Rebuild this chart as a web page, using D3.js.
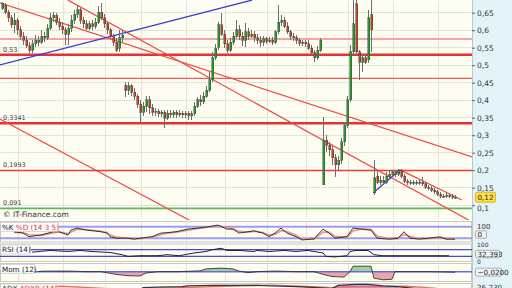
<!DOCTYPE html>
<html>
<head>
<meta charset="utf-8">
<script src="https://cdn.jsdelivr.net/npm/d3@7"></script>
<style>
html, body { margin: 0; padding: 0; background: #fff; }
svg { display: block; font-family: "DejaVu Sans", sans-serif; }
</style>
</head>
<body>
<svg id="chart" width="512" height="288"></svg>
<script>
// daily candles, oldest first
const opens = [.663,.672,.652,.635,.615,.629,.601,.583,.572,.555,.543,.561,.572,.566,.583,.578,.606,.635,.643,.623,.612,.601,.589,.606,.629,.646,.658,.629,.618,.606,.618,.612,.623,.652,.635,.618,.601,.583,.566,.549,.578,
  .443,.429,.441,.423,.412,.389,.366,.383,.401,.378,.366,.369,.361,.366,.349,.363,.358,.366,.358,.363,.358,.363,.355,.361,.383,.401,.395,.412,.429,
  .458,.521,.552,.615,.589,.561,.543,.566,.583,.601,.583,.572,.595,.583,.589,.578,.572,.566,.575,.569,.572,.566,.595,.623,.629,.612,.595,.583,.578,.572,.563,.566,.561,.549,.535,.521,.543,
  .158,.286,.272,.258,.235,.215,.229,.281,.329,.401,.538,.675,.538,.509,.521,.515,.646,
  .135,.183,.166,.172,.166,.183,.189,.195,.189,.198,.183,.169,.166,.163,.166,.163,.166,.161,.152,.149,.143,.138,.132,.126,.126,.129,.126,.123];
const highs = [.681,.678,.658,.643,.649,.635,.612,.595,.583,.566,.572,.586,.583,.601,.595,.618,.649,.652,.649,.635,.623,.609,.618,.643,.658,.669,.663,.638,.629,.626,.629,.635,.669,.678,.646,.623,.606,.589,.578,.601,.601,
  .452,.452,.446,.435,.418,.401,.395,.412,.412,.389,.378,.375,.372,.372,.372,.372,.372,.372,.372,.369,.369,.369,.369,.395,.409,.415,.423,.441,.481,
  .538,.561,.623,.649,.601,.572,.578,.595,.629,.615,.595,.621,.606,.601,.598,.589,.583,.583,.581,.581,.581,.601,.672,.643,.638,.623,.601,.592,.586,.578,.572,.572,.572,.558,.543,.555,.578,
  .352,.301,.281,.269,.246,.241,.292,.338,.412,.558,.686,.686,.543,.529,.529,.658,.686,
  .229,.201,.183,.183,.195,.198,.201,.201,.203,.203,.189,.175,.172,.172,.172,.172,.181,.166,.158,.155,.149,.143,.138,.132,.135,.132,.132,.129];
const lows = [.658,.646,.623,.606,.592,.586,.572,.558,.549,.535,.535,.552,.555,.561,.566,.572,.601,.623,.615,.601,.589,.558,.558,.595,.618,.635,.618,.606,.601,.601,.601,.603,.618,.629,.606,.589,.578,.555,.538,.538,.566,
  .409,.415,.412,.401,.378,.338,.355,.366,.361,.355,.355,.352,.352,.321,.343,.349,.349,.349,.352,.349,.349,.343,.343,.355,.378,.383,.389,.406,.423,
  .452,.515,.543,.583,.549,.535,.538,.558,.578,.572,.555,.552,.572,.578,.566,.561,.552,.555,.561,.563,.558,.561,.589,.612,.606,.589,.572,.569,.561,.555,.555,.552,.543,.526,.509,.515,.538,
  .158,.252,.241,.215,.181,.201,.218,.269,.321,.395,.529,.526,.458,.481,.503,.506,.538,
  .129,.161,.158,.158,.161,.178,.183,.181,.183,.178,.163,.158,.158,.158,.158,.158,.155,.146,.143,.138,.132,.126,.121,.121,.121,.121,.118,.118];
const closes = [.675,.652,.635,.615,.629,.601,.583,.572,.555,.543,.561,.572,.566,.583,.578,.606,.635,.643,.623,.612,.601,.589,.606,.629,.646,.658,.629,.618,.606,.618,.612,.623,.652,.635,.618,.601,.583,.566,.543,.578,.586,
  .429,.441,.423,.412,.389,.366,.383,.401,.378,.366,.369,.361,.366,.349,.363,.358,.366,.358,.363,.358,.363,.355,.361,.383,.401,.395,.412,.429,.458,
  .521,.549,.615,.589,.561,.543,.566,.583,.601,.583,.572,.595,.583,.589,.578,.572,.566,.575,.569,.572,.566,.595,.623,.629,.612,.595,.583,.578,.572,.563,.566,.561,.549,.535,.521,.543,.572,
  .286,.272,.258,.235,.215,.229,.281,.329,.401,.538,.618,.538,.509,.521,.509,.635,.601,
  .178,.166,.172,.166,.183,.189,.195,.189,.198,.183,.169,.166,.163,.166,.163,.166,.161,.152,.149,.143,.138,.132,.126,.125,.129,.126,.123,.120];

const monthStarts = [6, 21, 35, 47, 62, 75, 89, 102, 116, 131, 146];
const priceTicks = [0.65, 0.6, 0.55, 0.5, 0.45, 0.4, 0.35, 0.3, 0.25, 0.2, 0.15, 0.1];

// support / resistance levels: value, style, show label
const levelValues = [0.575, 0.53, 0.4626, 0.3341, 0.1993, 0.091];
const levelKinds  = ["soft", "strong", "thin", "strong", "mid", "green"];
const levelLabels = [false, true, false, true, true, true];

// trend lines as [candle index, price] pairs
const redTrends = [
  [[-0.7, 0.678], [156.7, 0.238]],
  [[22, 0.686], [156.7, 0.052]],
  [[-0.7, 0.346], [62.7, 0.056]],
  [[132.7, 0.201], [153.3, 0.115]]
];
const blueTrends = [
  [[-0.7, 0.501], [83.3, 0.686]],
  [[123.7, 0.135], [132.7, 0.201]]
];

// indicators as [candle index, value]
const stochK = [[4,54],[7,47],[9,28],[13,37],[17,54],[19,54],[22,37],[23,63],[25,73],[28,63],[33,54],[35,47],[36,28],[38,20],[42,20],[44,15],[47,22],[50,28],[53,47],[55,49],[58,54],[62,68],[65,73],[68,78],[72,89],[75,68],[77,68],[79,47],[82,54],[84,59],[85,54],[87,47],[89,28],[91,47],[93,73],[95,47],[98,28],[100,11],[104,16],[107,68],[109,47],[111,20],[115,28],[117,73],[120,68],[123,63],[125,20],[129,15],[132,20],[134,54],[136,20],[139,15],[142,20],[146,27],[148,15],[151,15]];
const stochD = [[4,50],[7,50],[9,38],[13,35],[17,48],[19,53],[22,45],[23,52],[25,66],[28,66],[33,57],[35,50],[36,38],[38,26],[42,21],[44,17],[47,19],[50,25],[53,38],[55,46],[58,52],[62,62],[65,70],[68,76],[72,84],[75,76],[77,70],[79,56],[82,52],[84,56],[85,55],[87,50],[89,36],[91,40],[93,60],[95,55],[98,36],[100,18],[104,15],[107,52],[109,52],[111,30],[115,26],[117,58],[120,68],[123,65],[125,32],[129,18],[132,18],[134,40],[136,30],[139,18],[142,18],[146,24],[148,19],[151,16]];
const rsi = [[10,55],[16,65],[22,59],[26,65],[30,59],[36,53],[40,40],[42,30],[46,34],[52,34],[55,40],[59,34],[64,50],[68,59],[70,69],[73,78],[75,65],[79,65],[84,59],[85,65],[89,59],[94,65],[98,59],[102,65],[107,50],[108,30],[111,27],[115,34],[116,59],[118,65],[122,65],[124,40],[127,34],[134,34],[142,34],[149,34]];
const mom = [[12,0],[14,0.02],[22,0.02],[28,0],[33,0],[38,-0.1],[42,-0.15],[46,-0.16],[48,-0.05],[52,0],[59,0],[66,0.03],[68,0.1],[73,0.13],[77,0.1],[79,0.02],[82,-0.04],[85,0],[91,0.02],[98,0],[104,0],[107,-0.1],[110,-0.18],[114,-0.2],[116,0],[117,0.2],[123,0.2],[124,-0.24],[127,-0.3],[130,-0.28],[131,0],[134,0],[142,0],[151,-0.02]];
const adx = [[45,30],[47,36],[52,36.5],[60,37],[62,38],[70,38.5],[85,38.5],[90,37.8],[98,37],[105,36],[110,35],[112,38.5],[118,39.5],[122,39.5],[127,38],[132,37],[138,35],[145,33]];
const adxr = [[0,35],[20,37.5],[40,34],[60,36],[80,38],[90,38.7],[100,37.5],[110,36],[115,37],[125,37],[135,37.5],[145,35],[151,34]];

const kLast = -0, rsiLast = 32.393, momLast = -0.02, adxLast = 26.23;

const fr = d3.formatLocale({decimal: ",", thousands: " ", grouping: [3], currency: ["", ""]});
const fmtTick = fr.format(".2~f");
const fmtLevel = fr.format(".4~f");

const svg = d3.select("#chart");
const plotR = 472;
const panel = {main: [0, 220], k: [221, 242.5], rsi: [243.5, 262], mom: [263, 282], adx: [283, 300]};

const x = d3.scaleLinear().domain([0, closes.length - 1]).range([2, 455]);
const y = d3.scaleLinear().domain([0.1, 0.65]).range([205.2, 12.7]);
const kY = d3.scaleLinear().domain([0, 100]).range([242, 223]);
const rsiY = d3.scaleLinear().domain([0, 100]).range([261.5, 244.5]);
const momY = d3.scaleLinear().domain([-0.4, 0.3]).range([282.5, 263.5]);
const adxY = d3.scaleLinear().domain([0, 40]).range([320, 284]);

// backgrounds
svg.append("rect").attr("x", 0).attr("y", 0).attr("width", 512).attr("height", 288).attr("fill", "#ffffff");
svg.append("rect").attr("x", plotR).attr("y", 0).attr("width", 40).attr("height", 288).attr("fill", "#e3f3f8");
Object.entries(panel).forEach(([k, [t, b]]) => {
  svg.append("rect").attr("x", 0.5).attr("y", t + 0.5).attr("width", plotR - 1).attr("height", b - t - 1)
    .attr("fill", "#fdfdf1").attr("stroke", k === "main" ? "none" : "#c9c9c0").attr("stroke-width", 1);
});
svg.append("line").attr("x1", plotR + 0.5).attr("x2", plotR + 0.5).attr("y1", 0).attr("y2", 288)
  .attr("stroke", "#b8c8d0");

const defs = svg.append("defs");
Object.entries(panel).forEach(([k, [t, b]]) => {
  defs.append("clipPath").attr("id", "clip-" + k).append("rect")
    .attr("x", 0).attr("y", t).attr("width", plotR).attr("height", b - t);
});
defs.append("clipPath").attr("id", "clip-above").append("rect")
  .attr("x", 0).attr("y", panel.mom[0]).attr("width", plotR).attr("height", momY(0) - panel.mom[0]);
defs.append("clipPath").attr("id", "clip-below").append("rect")
  .attr("x", 0).attr("y", momY(0)).attr("width", plotR).attr("height", panel.mom[1] - momY(0));

// grid
const grid = svg.append("g").attr("stroke", "#e4e4d8").attr("shape-rendering", "crispEdges");
grid.selectAll("line.h").data(priceTicks).join("line")
  .attr("x1", 0).attr("x2", plotR).attr("y1", d => y(d)).attr("y2", d => y(d));
Object.entries(panel).forEach(([k, [t, b]]) => {
  grid.append("g").selectAll("line").data(monthStarts).join("line")
    .attr("x1", d => x(d - 0.5)).attr("x2", d => x(d - 0.5)).attr("y1", t + 1).attr("y2", Math.min(b, 288) - 1);
});

// levels
const main = svg.append("g").attr("clip-path", "url(#clip-main)");
const levelStyle = {
  soft:   {c: "#f4a4a4", w: 2},
  strong: {c: "#e23434", w: 2.4},
  thin:   {c: "#f05a5a", w: 1.2},
  mid:    {c: "#f03a3a", w: 1.5},
  green:  {c: "#5cb85c", w: 1.6}
};
main.selectAll("line.level").data(levelValues).join("line")
  .attr("x1", 0).attr("x2", plotR).attr("y1", d => y(d)).attr("y2", d => y(d))
  .attr("stroke", (d, i) => levelStyle[levelKinds[i]].c)
  .attr("stroke-width", (d, i) => levelStyle[levelKinds[i]].w);

// trend lines
const tl = d3.line().x(d => x(d[0])).y(d => y(d[1]));
main.selectAll("path.red").data(redTrends).join("path")
  .attr("d", tl).attr("fill", "none").attr("stroke", "#f04848").attr("stroke-width", 1.2);
main.selectAll("path.blue").data(blueTrends).join("path")
  .attr("d", tl).attr("fill", "none").attr("stroke", "#3a3ad8").attr("stroke-width", 1.3);

// candles
const candles = closes.map((c, i) => ({i, o: opens[i], h: highs[i], l: lows[i], c}));
const cg = main.append("g").attr("shape-rendering", "crispEdges");
cg.selectAll("line").data(candles).join("line")
  .attr("x1", d => x(d.i) + 0.5).attr("x2", d => x(d.i) + 0.5)
  .attr("y1", d => y(d.h)).attr("y2", d => y(d.l))
  .attr("stroke", "#6e6e6e").attr("stroke-width", 1);
cg.selectAll("rect").data(candles).join("rect")
  .attr("x", d => x(d.i) - 0.5).attr("width", 2)
  .attr("y", d => y(Math.max(d.o, d.c)))
  .attr("height", d => Math.max(1, Math.abs(y(d.o) - y(d.c))))
  .attr("fill", d => d.c >= d.o ? "#1e9e28" : "#c4401e")
  .attr("stroke", "#4a4a4a").attr("stroke-width", 0.5);

// level labels
svg.append("g").selectAll("text").data(levelValues.filter((d, i) => levelLabels[i])).join("text")
  .attr("x", 3).attr("y", d => y(d) - 3)
  .attr("font-size", 6.5).attr("fill", "#444").text(d => fmtLevel(d));
svg.append("text").attr("x", 3).attr("y", 217).attr("font-size", 7.5).attr("fill", "#333")
  .text("\u00a9 IT-Finance.com");

// right price axis
const axis = svg.append("g").attr("transform", `translate(${plotR},0)`)
  .call(d3.axisRight(y).tickValues(priceTicks).tickFormat(fmtTick).tickSize(3).tickPadding(2));
axis.select(".domain").remove();
axis.selectAll("line").attr("stroke", "#666");
axis.selectAll("text").attr("font-size", 7.5).attr("fill", "#333").attr("font-family", "DejaVu Sans")
  .attr("dy", d => d === 0.1 ? "0.7em" : "0.32em");

function valueBox(text, cy, fill, stroke, w, h) {
  const g = svg.append("g");
  g.append("rect").attr("x", plotR + 3.5).attr("y", cy - h / 2).attr("width", w).attr("height", h)
    .attr("rx", 1.5).attr("fill", fill).attr("stroke", stroke).attr("stroke-width", 0.8);
  g.append("text").attr("x", plotR + 5.5).attr("y", cy + 2.6).attr("font-size", 7.2).attr("fill", "#222").text(text);
}
valueBox(fmtTick(closes[closes.length - 1]), y(closes[closes.length - 1]) - 1, "#ffe04a", "#d0a800", 20, 10);

// stochastic panel
const kg = svg.append("g").attr("clip-path", "url(#clip-k)");
kg.selectAll("line").data([80, 20]).join("line")
  .attr("x1", 0).attr("x2", plotR).attr("y1", d => kY(d)).attr("y2", d => kY(d))
  .attr("stroke", "#9c9cf0").attr("stroke-width", 2);
kg.append("path").datum(stochD).attr("d", d3.line().x(d => x(d[0])).y(d => kY(d[1])))
  .attr("fill", "none").attr("stroke", "#f09090").attr("stroke-width", 1.6);
kg.append("path").datum(stochK).attr("d", d3.line().x(d => x(d[0])).y(d => kY(d[1])))
  .attr("fill", "none").attr("stroke", "#222").attr("stroke-width", 0.9);

// rsi panel
const rg = svg.append("g").attr("clip-path", "url(#clip-rsi)");
rg.selectAll("line").data([70, 30]).join("line")
  .attr("x1", 0).attr("x2", plotR).attr("y1", d => rsiY(d)).attr("y2", d => rsiY(d))
  .attr("stroke", "#4a4ad8").attr("stroke-width", 1.2);
rg.append("path").datum(rsi).attr("d", d3.line().x(d => x(d[0])).y(d => rsiY(d[1])))
  .attr("fill", "none").attr("stroke", "#222").attr("stroke-width", 1);

// momentum panel
const mg = svg.append("g").attr("clip-path", "url(#clip-mom)");
const momArea = d3.area().x(d => x(d[0])).y0(momY(0)).y1(d => momY(d[1]));
mg.append("path").datum(mom).attr("d", momArea).attr("fill", "#9fcf9a").attr("clip-path", "url(#clip-above)");
mg.append("path").datum(mom).attr("d", momArea).attr("fill", "#e8a8a8").attr("clip-path", "url(#clip-below)");
mg.append("line").attr("x1", 0).attr("x2", plotR).attr("y1", momY(0)).attr("y2", momY(0))
  .attr("stroke", "#6a6ae0").attr("stroke-width", 1.5);
mg.append("path").datum(mom).attr("d", d3.line().x(d => x(d[0])).y(d => momY(d[1])))
  .attr("fill", "none").attr("stroke", "#333").attr("stroke-width", 0.9);

// adx panel
const ag = svg.append("g").attr("clip-path", "url(#clip-adx)");
ag.append("path").datum(adx.filter(d => d[0] >= 105 && d[0] <= 132))
  .attr("d", d3.area().x(d => x(d[0])).y0(adxY(33)).y1(d => adxY(d[1])))
  .attr("fill", "#b8a8e0");
ag.append("path").datum(adxr).attr("d", d3.line().x(d => x(d[0])).y(d => adxY(d[1])))
  .attr("fill", "none").attr("stroke", "#f06a6a").attr("stroke-width", 1.4);
ag.append("path").datum(adx).attr("d", d3.line().x(d => x(d[0])).y(d => adxY(d[1])))
  .attr("fill", "none").attr("stroke", "#333").attr("stroke-width", 1.2);

// panel titles
function title(parts, top, w) {
  const g = svg.append("g");
  g.append("rect").attr("x", 0.5).attr("y", top + 0.5).attr("width", w).attr("height", 9)
    .attr("fill", "#ffffff").attr("fill-opacity", 0.85).attr("stroke", "#c0c0c0").attr("stroke-width", 0.6);
  const t = g.append("text").attr("x", 2).attr("y", top + 7.5).attr("font-size", 7.2);
  parts.forEach(p => t.append("tspan").attr("fill", p[1]).text(p[0]));
}
title([["%K ", "#222"], ["%D (14 3 5)", "#e03a3a"]], panel.k[0] + 1, 58);
title([["RSI (14)", "#222"]], panel.rsi[0] + 1, 30);
title([["Mom (12)", "#222"]], panel.mom[0] + 1, 34);
title([["ADX ", "#222"], ["ADXR (14)", "#e03a3a"]], panel.adx[0] + 0.5, 56);

// sub-panel right labels
function rlabel(text, yy, size) {
  svg.append("text").attr("x", plotR + 5).attr("y", yy).attr("font-size", size).attr("fill", "#333").text(text);
}
rlabel("100", 229, 7);
valueBox(fr.format(".0f")(kLast), 234.5, "#f2f2f2", "#a0a0a0", 11, 7.5);
rlabel("100", 247, 6);
valueBox(fr.format(".3f")(rsiLast), 254, "#f2f2f2", "#a0a0a0", 24, 7.5);
rlabel("0", 263.5, 6);
valueBox(fr.format(".4f")(momLast), momY(0) + 0.5, "#f2f2f2", "#a0a0a0", 26, 8);
rlabel(fr.format(".3f")(adxLast), 290, 7.2);
</script>
</body>
</html>
